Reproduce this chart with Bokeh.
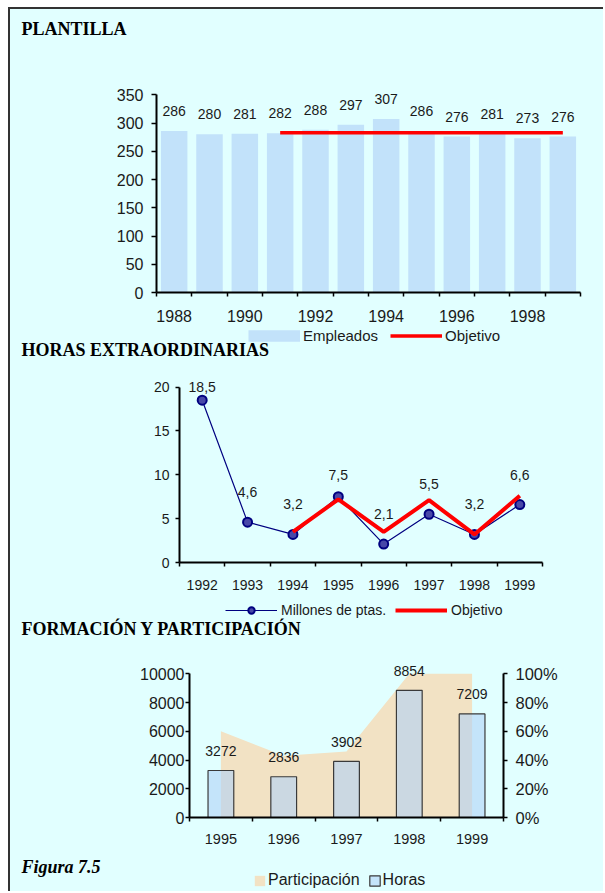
import numpy as np
from bokeh.plotting import figure
from bokeh.models import (ColumnDataSource, Range1d, FixedTicker, LabelSet,
                          Legend, LegendItem, LinearAxis, NumeralTickFormatter)
from bokeh.embed import file_html
from bokeh.resources import INLINE
from bokeh.core.properties import value

# ---------------- data ----------------
plantilla_years = [1988, 1989, 1990, 1991, 1992, 1993, 1994, 1995, 1996, 1997, 1998, 1999]
empleados = [286, 280, 281, 282, 288, 297, 307, 286, 276, 281, 273, 276]
objetivo_plantilla_years = [1991, 1992, 1993, 1994, 1995, 1996, 1997, 1998, 1999]
objetivo_plantilla = [283, 283, 283, 283, 283, 283, 283, 283, 283]
plantilla_xticks = [1988, 1990, 1992, 1994, 1996, 1998]
plantilla_yticks = [0, 50, 100, 150, 200, 250, 300, 350]

horas_ext_years = [1992, 1993, 1994, 1995, 1996, 1997, 1998, 1999]
millones_ptas = [18.5, 4.6, 3.2, 7.5, 2.1, 5.5, 3.2, 6.6]
objetivo_horas_years = [1994, 1995, 1996, 1997, 1998, 1999]
objetivo_horas = [3.5, 7.2, 3.5, 7.1, 3.2, 7.6]
horas_ext_yticks = [0, 5, 10, 15, 20]

formacion_years = [1995, 1996, 1997, 1998, 1999]
horas_formacion = [3272, 2836, 3902, 8854, 7209]
participacion = [0.60, 0.43, 0.46, 1.00, 1.00]
formacion_yticks = [0, 2000, 4000, 6000, 8000, 10000]
participacion_ticks = [0, 0.2, 0.4, 0.6, 0.8, 1.0]

# label offsets (px above the point) for the second chart, style only
horas_label_dy = [13, 30, 30, 22, 30, 30, 30, 30]

# ---------------- style ----------------
W = 595
BG = "#E1FFFF"
SANS = "Liberation Sans"
SERIF = "Liberation Serif"
TXT = "#1a1a1a"
RED = "#FF0000"
BAR1 = "#C2E2FA"
BAR3 = "#B1D2F7"
TAN = "#F2E2C4"
NAVY = "#000080"
BORDER = "2px solid #333333"
SIDE = {"margin-left": "8px", "border-left": BORDER, "background-color": BG}
FIRST = {"margin-left": "8px", "margin-top": "7px", "border-left": BORDER,
         "border-top": BORDER, "background-color": BG}


def make_fig(h, x_range, y_range, left, right, top, bottom):
    p = figure(width=W, height=h, x_range=x_range, y_range=y_range, title=None,
               output_backend="svg", toolbar_location=None,
               min_border_left=left, min_border_right=right,
               min_border_top=top, min_border_bottom=bottom)
    p.background_fill_color = BG
    p.border_fill_color = BG
    p.outline_line_color = None
    p.xgrid.visible = False
    p.ygrid.visible = False
    p.styles = SIDE
    return p


def text_fig(h, styles=SIDE):
    p = figure(width=W, height=h, x_range=Range1d(0, W), y_range=Range1d(h, 0),
               title=None, output_backend="svg", toolbar_location=None,
               x_axis_type=None, y_axis_type=None,
               min_border_left=0, min_border_right=0, min_border_top=0, min_border_bottom=0)
    p.background_fill_color = BG
    p.border_fill_color = BG
    p.outline_line_color = None
    p.grid.visible = False
    p.styles = styles
    return p


def add_heading(p, text, x, y, style="bold"):
    p.text(x=[x], y=[y], text=[text], text_font=value(SERIF), text_font_size="18px",
           text_font_style=style, text_baseline="middle", text_align="left",
           text_color="black")


def style_axis(ax, font_size, standoff, tick_out):
    ax.axis_line_color = "black"
    ax.axis_line_width = 2
    ax.major_tick_line_color = "black"
    ax.major_tick_line_width = 1.5
    ax.major_tick_in = 0
    ax.major_tick_out = tick_out
    ax.minor_tick_line_color = None
    ax.major_label_text_font = SANS
    ax.major_label_text_font_size = font_size
    ax.major_label_text_color = TXT
    ax.major_label_standoff = standoff


def style_band_axis(ax, ticks, years, font_size, standoff):
    style_axis(ax, font_size, standoff, 0)
    edges = [y - 0.5 for y in years] + [years[-1] + 0.5]
    ax.ticker = FixedTicker(ticks=ticks, minor_ticks=edges)
    ax.formatter = NumeralTickFormatter(format="0")
    ax.major_tick_line_color = None
    ax.minor_tick_line_color = "black"
    ax.minor_tick_line_width = 1.5
    ax.minor_tick_in = 0
    ax.minor_tick_out = 4


def make_legend(items, loc, gw, gh, fs, standoff, spacing):
    return Legend(items=items, location=loc, orientation="horizontal",
                  glyph_width=gw, glyph_height=gh, label_height=gh,
                  label_standoff=standoff, spacing=spacing, padding=0, margin=0,
                  border_line_color=None, background_fill_alpha=0,
                  label_text_font=SANS, label_text_font_size=fs,
                  label_text_color=TXT)


# ---------------- PLANTILLA ----------------
head1 = text_fig(51, FIRST)
add_heading(head1, "PLANTILLA", 11, 19.5)

p1 = make_fig(268, Range1d(plantilla_years[0] - 0.5, plantilla_years[-1] + 0.5),
              Range1d(0, 370), 146, 25, 25, 34)
src1 = ColumnDataSource(dict(x=plantilla_years, top=empleados,
                             lbl=[str(v) for v in empleados]))
p1.vbar(x="x", top="top", width=0.75, source=src1, fill_color=BAR1, line_color=None)
p1.line(objetivo_plantilla_years, objetivo_plantilla, line_color=RED, line_width=3.5)
p1.add_layout(LabelSet(x="x", y="top", text="lbl", source=src1, y_offset=20,
                       text_align="center", text_baseline="middle",
                       text_font=value(SANS), text_font_size="14px", text_color=TXT))
style_band_axis(p1.xaxis[0], plantilla_xticks, plantilla_years, "16px", 13)
style_axis(p1.yaxis[0], "16px", 8, 5)
p1.yaxis[0].ticker = FixedTicker(ticks=plantilla_yticks)
p1.yaxis[0].bounds = (0, 350)

# legend of chart 1 + heading of chart 2
leg1 = text_fig(34)
k_emp = leg1.line([np.nan], [np.nan], line_color=BAR1, line_width=11.6, line_cap="butt")
k_obj1 = leg1.line([np.nan], [np.nan], line_color=RED, line_width=3.5)
leg1.add_layout(make_legend([LegendItem(label="Empleados", renderers=[k_emp]),
                             LegendItem(label="Objetivo", renderers=[k_obj1])],
                            (238, 16), 52, 17, "15px", 3, 12))
add_heading(leg1, "HORAS EXTRAORDINARIAS", 11, 23.5)

# ---------------- HORAS EXTRAORDINARIAS ----------------
p2 = make_fig(238, Range1d(horas_ext_years[0] - 0.5, horas_ext_years[-1] + 0.5),
              Range1d(0, 22), 169, 63, 9, 36)
src2 = ColumnDataSource(dict(x=horas_ext_years, y=millones_ptas,
                             lbl=[f"{v:.1f}".replace(".", ",") for v in millones_ptas],
                             dy=horas_label_dy))
p2.line("x", "y", source=src2, line_color=NAVY, line_width=1.2)
p2.scatter("x", "y", source=src2, size=9, fill_color="#4848A8",
           line_color=NAVY, line_width=2)
p2.line(objetivo_horas_years, objetivo_horas, line_color=RED, line_width=4)
p2.add_layout(LabelSet(x="x", y="y", text="lbl", source=src2, y_offset="dy",
                       text_align="center", text_baseline="middle",
                       text_font=value(SANS), text_font_size="14px", text_color=TXT))
style_band_axis(p2.xaxis[0], horas_ext_years, horas_ext_years, "14px", 13)
style_axis(p2.yaxis[0], "14px", 6, 4)
p2.yaxis[0].ticker = FixedTicker(ticks=horas_ext_yticks)
p2.yaxis[0].bounds = (0, 20)

# legend of chart 2 + heading of chart 3
leg2 = text_fig(45)
k_line = leg2.line([np.nan], [np.nan], line_color=NAVY, line_width=1.2)
k_pts = leg2.scatter([np.nan], [np.nan], size=9, fill_color="#4848A8",
                     line_color=NAVY, line_width=2)
k_obj2 = leg2.line([np.nan], [np.nan], line_color=RED, line_width=4)
leg2.add_layout(make_legend([LegendItem(label="Millones de ptas.", renderers=[k_line, k_pts]),
                             LegendItem(label="Objetivo", renderers=[k_obj2])],
                            (215, 25), 52, 16, "14px", 4, 9))
add_heading(leg2, "FORMACIÓN Y PARTICIPACIÓN", 11, 30.5)

# ---------------- FORMACIÓN Y PARTICIPACIÓN ----------------
p3 = make_fig(205, Range1d(formacion_years[0] - 0.5, formacion_years[-1] + 0.5),
              Range1d(0, 11000), 179, 102, 16, 31)
p3.extra_y_ranges = {"pct": Range1d(0, 1.1)}
p3.varea(x=formacion_years, y1=0, y2=participacion, y_range_name="pct", fill_color=TAN)
src3 = ColumnDataSource(dict(x=formacion_years, top=horas_formacion,
                             lbl=[str(v) for v in horas_formacion]))
p3.vbar(x="x", top="top", width=0.41, source=src3, fill_color=BAR3,
        fill_alpha=0.6, line_color="#3a3a3a", line_width=1.2)
p3.add_layout(LabelSet(x="x", y="top", text="lbl", source=src3, y_offset=19.5,
                       text_align="center", text_baseline="middle",
                       text_font=value(SANS), text_font_size="14px", text_color=TXT))
style_band_axis(p3.xaxis[0], formacion_years, formacion_years, "14.5px", 12)
style_axis(p3.yaxis[0], "16px", 1, 4)
p3.yaxis[0].ticker = FixedTicker(ticks=formacion_yticks)
p3.yaxis[0].bounds = (0, 10000)
ax_r = LinearAxis(y_range_name="pct", bounds=(0, 1),
                  ticker=FixedTicker(ticks=participacion_ticks),
                  formatter=NumeralTickFormatter(format="0%"))
style_axis(ax_r, "16.5px", 8, 4)
p3.add_layout(ax_r, "right")

# caption + legend of chart 3
leg3 = text_fig(43)
k_area = leg3.varea(x=[np.nan], y1=[np.nan], y2=[np.nan], fill_color=TAN)
k_bar = leg3.vbar(x=[np.nan], top=[np.nan], width=0.4, fill_color=BAR3, fill_alpha=0.6,
                  line_color="#3a3a3a", line_width=1.2)
leg3.add_layout(make_legend([LegendItem(label="Participación", renderers=[k_area]),
                             LegendItem(label="Horas", renderers=[k_bar])],
                            (243, 2), 13, 13, "16px", 2, 8))
add_heading(leg3, "Figura 7.5", 11, 18, style="bold italic")

roots = [head1, p1, leg1, p2, leg2, p3, leg3]
open("out.html", "w").write(file_html(roots, INLINE, title="Figura 7.5"))
